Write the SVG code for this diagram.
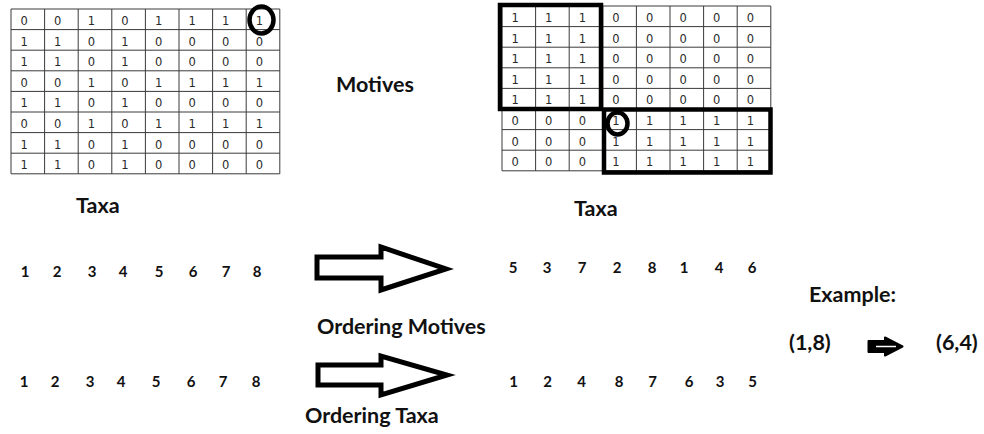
<svg xmlns="http://www.w3.org/2000/svg" width="984" height="434" viewBox="0 0 984 434">
<style>
.grid{stroke:#3a3a3a;stroke-width:1;fill:none}
.c{font-family:"DejaVu Sans",Verdana,sans-serif;font-size:11.5px;fill:#2a2a2a}
.b{font-family:Lato,"Open Sans",sans-serif;font-weight:bold;fill:#111}
.lbl{font-size:21.5px}
.num{font-size:15px;text-anchor:middle}
.thick{fill:none;stroke:#000;stroke-width:4.5}
.ring{fill:none;stroke:#000;stroke-width:4.5}
.arr{fill:#fff;stroke:#000;stroke-width:5;stroke-linejoin:miter}
</style>
<rect width="984" height="434" fill="#fff"/>

<g id="matrix-left">
<path class="grid" d="M11,9H279.8M11,29.6H279.8M11,50.2H279.8M11,70.8H279.8M11,91.4H279.8M11,112H279.8M11,132.6H279.8M11,153.2H279.8M11,173.8H279.8M11,9V173.8M44.6,9V173.8M78.2,9V173.8M111.8,9V173.8M145.4,9V173.8M179,9V173.8M212.6,9V173.8M246.2,9V173.8M279.8,9V173.8"/>
<g class="c">
<text x="20.5" y="25">0</text><text x="54.1" y="25">0</text><text x="87.7" y="25">1</text><text x="121.3" y="25">0</text><text x="154.9" y="25">1</text><text x="188.5" y="25">1</text><text x="222.1" y="25">1</text><text x="255.7" y="25">1</text>
<text x="20.5" y="45.6">1</text><text x="54.1" y="45.6">1</text><text x="87.7" y="45.6">0</text><text x="121.3" y="45.6">1</text><text x="154.9" y="45.6">0</text><text x="188.5" y="45.6">0</text><text x="222.1" y="45.6">0</text><text x="255.7" y="45.6">0</text>
<text x="20.5" y="66.2">1</text><text x="54.1" y="66.2">1</text><text x="87.7" y="66.2">0</text><text x="121.3" y="66.2">1</text><text x="154.9" y="66.2">0</text><text x="188.5" y="66.2">0</text><text x="222.1" y="66.2">0</text><text x="255.7" y="66.2">0</text>
<text x="20.5" y="86.8">0</text><text x="54.1" y="86.8">0</text><text x="87.7" y="86.8">1</text><text x="121.3" y="86.8">0</text><text x="154.9" y="86.8">1</text><text x="188.5" y="86.8">1</text><text x="222.1" y="86.8">1</text><text x="255.7" y="86.8">1</text>
<text x="20.5" y="107.4">1</text><text x="54.1" y="107.4">1</text><text x="87.7" y="107.4">0</text><text x="121.3" y="107.4">1</text><text x="154.9" y="107.4">0</text><text x="188.5" y="107.4">0</text><text x="222.1" y="107.4">0</text><text x="255.7" y="107.4">0</text>
<text x="20.5" y="128">0</text><text x="54.1" y="128">0</text><text x="87.7" y="128">1</text><text x="121.3" y="128">0</text><text x="154.9" y="128">1</text><text x="188.5" y="128">1</text><text x="222.1" y="128">1</text><text x="255.7" y="128">1</text>
<text x="20.5" y="148.6">1</text><text x="54.1" y="148.6">1</text><text x="87.7" y="148.6">0</text><text x="121.3" y="148.6">1</text><text x="154.9" y="148.6">0</text><text x="188.5" y="148.6">0</text><text x="222.1" y="148.6">0</text><text x="255.7" y="148.6">0</text>
<text x="20.5" y="169.2">1</text><text x="54.1" y="169.2">1</text><text x="87.7" y="169.2">0</text><text x="121.3" y="169.2">1</text><text x="154.9" y="169.2">0</text><text x="188.5" y="169.2">0</text><text x="222.1" y="169.2">0</text><text x="255.7" y="169.2">0</text>
</g>
<ellipse class="ring" cx="261.5" cy="20" rx="12" ry="13.5"/>
</g>

<g id="matrix-right">
<path class="grid" d="M502,6H770.8M502,26.6H770.8M502,47.2H770.8M502,67.8H770.8M502,88.4H770.8M502,109H770.8M502,129.6H770.8M502,150.2H770.8M502,170.8H770.8M502,6V170.8M535.6,6V170.8M569.2,6V170.8M602.8,6V170.8M636.4,6V170.8M670,6V170.8M703.6,6V170.8M737.2,6V170.8M770.8,6V170.8"/>
<g class="c">
<text x="511.5" y="22">1</text><text x="545.1" y="22">1</text><text x="578.7" y="22">1</text><text x="612.3" y="22">0</text><text x="645.9" y="22">0</text><text x="679.5" y="22">0</text><text x="713.1" y="22">0</text><text x="746.7" y="22">0</text>
<text x="511.5" y="42.6">1</text><text x="545.1" y="42.6">1</text><text x="578.7" y="42.6">1</text><text x="612.3" y="42.6">0</text><text x="645.9" y="42.6">0</text><text x="679.5" y="42.6">0</text><text x="713.1" y="42.6">0</text><text x="746.7" y="42.6">0</text>
<text x="511.5" y="63.2">1</text><text x="545.1" y="63.2">1</text><text x="578.7" y="63.2">1</text><text x="612.3" y="63.2">0</text><text x="645.9" y="63.2">0</text><text x="679.5" y="63.2">0</text><text x="713.1" y="63.2">0</text><text x="746.7" y="63.2">0</text>
<text x="511.5" y="83.8">1</text><text x="545.1" y="83.8">1</text><text x="578.7" y="83.8">1</text><text x="612.3" y="83.8">0</text><text x="645.9" y="83.8">0</text><text x="679.5" y="83.8">0</text><text x="713.1" y="83.8">0</text><text x="746.7" y="83.8">0</text>
<text x="511.5" y="104.4">1</text><text x="545.1" y="104.4">1</text><text x="578.7" y="104.4">1</text><text x="612.3" y="104.4">0</text><text x="645.9" y="104.4">0</text><text x="679.5" y="104.4">0</text><text x="713.1" y="104.4">0</text><text x="746.7" y="104.4">0</text>
<text x="511.5" y="125">0</text><text x="545.1" y="125">0</text><text x="578.7" y="125">0</text><text x="612.3" y="125">1</text><text x="645.9" y="125">1</text><text x="679.5" y="125">1</text><text x="713.1" y="125">1</text><text x="746.7" y="125">1</text>
<text x="511.5" y="145.6">0</text><text x="545.1" y="145.6">0</text><text x="578.7" y="145.6">0</text><text x="612.3" y="145.6">1</text><text x="645.9" y="145.6">1</text><text x="679.5" y="145.6">1</text><text x="713.1" y="145.6">1</text><text x="746.7" y="145.6">1</text>
<text x="511.5" y="166.2">0</text><text x="545.1" y="166.2">0</text><text x="578.7" y="166.2">0</text><text x="612.3" y="166.2">1</text><text x="645.9" y="166.2">1</text><text x="679.5" y="166.2">1</text><text x="713.1" y="166.2">1</text><text x="746.7" y="166.2">1</text>
</g>
<rect class="thick" x="500" y="5" width="101" height="104"/>
<rect class="thick" x="604" y="109.5" width="166.5" height="63"/>
<ellipse class="ring" cx="617.5" cy="123.5" rx="10" ry="11" stroke-width="3.5"/>
</g>

<g id="labels" class="b">
<text class="lbl" x="336" y="92">Motives</text>
<text class="lbl" x="76" y="213">Taxa</text>
<text class="lbl" x="574" y="216">Taxa</text>
<text class="lbl" x="317" y="334">Ordering Motives</text>
<text class="lbl" x="305" y="423">Ordering Taxa</text>
<text class="lbl" x="809" y="302">Example:</text>
<text class="lbl" x="789" y="350">(1,8)</text>
<text class="lbl" x="936" y="350">(6,4)</text>
</g>

<g id="row-original-1" class="b num">
<text x="25" y="277">1</text><text x="57" y="277">2</text><text x="92" y="277">3</text><text x="123" y="277">4</text><text x="159" y="277">5</text><text x="193" y="277">6</text><text x="226" y="277">7</text><text x="257" y="277">8</text>
</g>
<g id="row-motives" class="b num">
<text x="513" y="273">5</text><text x="547" y="273">3</text><text x="582" y="273">7</text><text x="617" y="273">2</text><text x="652" y="273">8</text><text x="684" y="273">1</text><text x="719" y="273">4</text><text x="752" y="273">6</text>
</g>
<g id="row-original-2" class="b num">
<text x="24" y="387">1</text><text x="55" y="387">2</text><text x="90" y="387">3</text><text x="121" y="387">4</text><text x="156" y="387">5</text><text x="191" y="387">6</text><text x="223" y="387">7</text><text x="256" y="387">8</text>
</g>
<g id="row-taxa" class="b num">
<text x="513.5" y="387">1</text><text x="547.5" y="387">2</text><text x="581.5" y="387">4</text><text x="619" y="387">8</text><text x="652.5" y="387">7</text><text x="689" y="387">6</text><text x="720" y="387">3</text><text x="752.5" y="387">5</text>
</g>

<g id="connectors">
<path class="arr" d="M317,257H381V247L446,269L381,290V278H317Z"/>
<path class="arr" d="M318,365H381V356L447,375L381,395V385H318Z"/>
<path d="M868.5,341H885V337.5L902.5,346.5L885,355.5V352H868.5Z" fill="#000" stroke="#000" stroke-width="2" stroke-linejoin="round"/>
<path d="M876,346.5H896" stroke="#fff" stroke-width="1.5"/>
</g>
</svg>
